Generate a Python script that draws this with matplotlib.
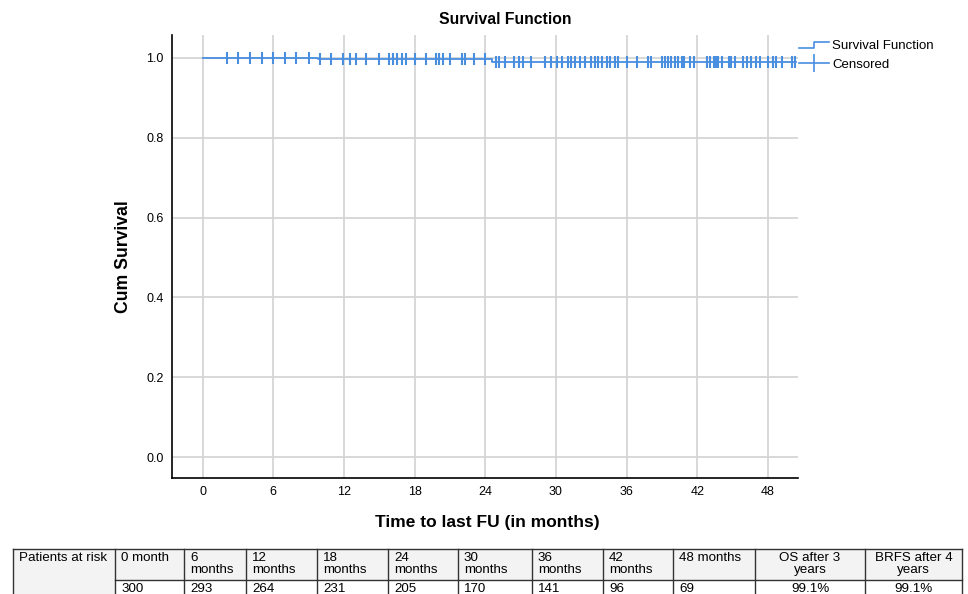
import matplotlib.pyplot as plt
import numpy as np
from matplotlib.lines import Line2D
from matplotlib.legend_handler import HandlerBase

plt.rcParams['font.family'] = ['Liberation Sans', 'DejaVu Sans']

# survival curve (step points) in months
step_times = [0, 9.8, 24.6, 50.4]
step_surv = [1.0, 0.9965, 0.991, 0.991]

# censored follow-up times (months)
censored = [2.05, 3.0, 4.0, 5.0, 6.0, 7.0, 7.9, 9.05, 10.0, 10.9, 11.9, 12.5, 13.05,
            13.9, 14.95, 15.8, 16.2, 16.5, 16.9, 17.3, 18.0, 19.0, 19.85, 20.1, 20.4,
            21.0, 22.0, 22.3, 23.0, 24.0, 24.9, 25.2, 25.7, 26.4, 26.9, 27.2, 27.9,
            29.05, 29.6, 30.05, 30.5, 31.0, 31.3, 31.6, 32.0, 32.5, 33.0, 33.3, 33.6,
            33.9, 34.3, 34.6, 35.0, 35.3, 36.0, 36.9, 37.8, 38.1, 39.0, 39.25, 39.5,
            39.8, 40.1, 40.4, 40.7, 40.9, 41.4, 41.7, 42.8, 43.1, 43.4, 43.6, 43.8,
            44.1, 44.7, 44.9, 45.2, 45.9, 46.2, 46.6, 47.0, 47.3, 48.0, 48.4, 48.7,
            49.2, 50.0, 50.3]

x_ticks = [0, 6, 12, 18, 24, 30, 36, 42, 48]
y_ticks = [0.0, 0.2, 0.4, 0.6, 0.8, 1.0]

# patients-at-risk table
table_head = ["Patients at risk", "0 month", "6\nmonths", "12\nmonths", "18\nmonths",
              "24\nmonths", "30\nmonths", "36\nmonths", "42\nmonths", "48 months",
              "OS after 3\nyears", "BRFS after 4\nyears"]
table_vals = ["", "300", "293", "264", "231", "205", "170", "141", "96", "69",
              "99.1%", "99.1%"]

blue = '#4a8ee0'

fig = plt.figure(figsize=(9.68, 5.94), dpi=100)
ax = fig.add_axes([172/968, 1-478/594, (798-172)/968, (478-35)/594])

ax.step(step_times, step_surv, where='post', color=blue, lw=1.3)
cens_y = np.interp(censored, [0, 9.8, 9.8001, 24.6, 24.6001, 50.4],
                   [1.0, 1.0, 0.9965, 0.9965, 0.991, 0.991])
ax.plot(censored, cens_y, ls='none', marker='|', ms=8, mew=1.5, color=blue)

ax.set_xlim(-2.6, 50.55)
ax.set_ylim(-0.0526, 1.0576)
ax.set_xticks(x_ticks)
ax.set_yticks(y_ticks)
ax.set_yticklabels(['%.1f' % v for v in y_ticks])
ax.tick_params(length=0, labelsize=9, pad=6)
ax.grid(True, color='#d2d2d2', lw=1.2)
ax.set_axisbelow(True)
for s in ['top', 'right']:
    ax.spines[s].set_visible(False)
for s in ['left', 'bottom']:
    ax.spines[s].set_linewidth(1.2)

fig.text(505/968, 1-19/594, 'Survival Function', ha='center', va='center',
         fontsize=11.3, fontweight='bold')
fig.text(123/968, 1-257/594, 'Cum Survival', ha='center', va='center',
         rotation=90, fontsize=12.7, fontweight='bold')
fig.text(487/968, 1-522/594, 'Time to last FU (in months)', ha='center',
         va='center', fontsize=12.5, fontweight='bold')


class StepHandler(HandlerBase):
    def create_artists(self, legend, orig, xd, yd, w, h, fontsize, trans):
        xs = [xd, xd + w*0.5, xd + w*0.5, xd + w]
        ys = [yd + h*0.1, yd + h*0.1, yd + h*0.8, yd + h*0.8]
        ln = Line2D(xs, ys, color=blue, lw=1.2, transform=trans)
        return [ln]


h_surv = Line2D([], [], color=blue)
h_cens = Line2D([], [], color=blue, marker='|', ms=13, mew=1.2, lw=1.2)
fig.legend([h_surv, h_cens], ['Survival Function', 'Censored'],
           handler_map={h_surv: StepHandler()}, loc='upper left',
           bbox_to_anchor=(799/968, 1-40/594), frameon=False, fontsize=9.5,
           handlelength=2.3, handletextpad=0.2, labelspacing=0.5,
           borderaxespad=0, borderpad=0)

# table drawn in pixel coordinates
tax = fig.add_axes([0, 0, 1, 1])
tax.set_xlim(0, 968)
tax.set_ylim(594, 0)
tax.axis('off')
borders = [13, 115, 184, 246, 317, 388, 458, 532, 603, 673, 755, 865, 962]
top, mid, bot = 549, 580, 600
tax.fill_between([borders[0], borders[-1]], top, mid, color='#f3f3f3', lw=0)
tax.fill_between([borders[0], borders[1]], mid, bot, color='#f3f3f3', lw=0)
tax.plot([borders[0], borders[-1]], [top, top], color='#333333', lw=1)
tax.plot([borders[1], borders[-1]], [mid, mid], color='#333333', lw=1)
for b in borders:
    tax.plot([b, b], [top, bot], color='#333333', lw=1)
for i, (hd, vl) in enumerate(zip(table_head, table_vals)):
    x0, x1 = borders[i], borders[i+1]
    if i >= 10:
        tax.text((x0+x1)/2, top+3, hd, ha='center', va='top', fontsize=9.6,
                 linespacing=1.05)
        tax.text((x0+x1)/2, mid+3, vl, ha='center', va='top', fontsize=9.6)
    else:
        tax.text(x0+6, top+3, hd, ha='left', va='top', fontsize=9.6,
                 linespacing=1.05)
        tax.text(x0+6, mid+3, vl, ha='left', va='top', fontsize=9.6)

fig.savefig('out.png', dpi=100)
